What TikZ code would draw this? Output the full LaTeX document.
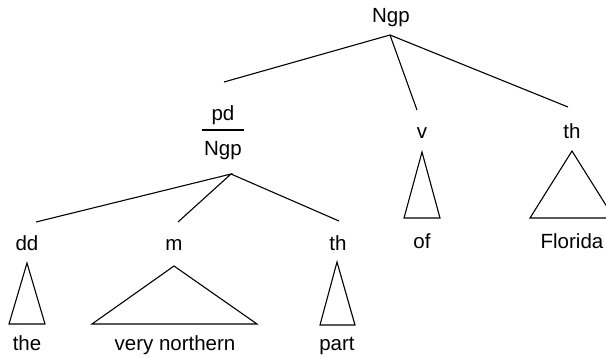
\documentclass[tikz,border=0pt]{standalone}
\usepackage{fontspec}
\setmainfont{Liberation Sans}
\begin{document}
\begin{tikzpicture}[x=1pt,y=-1pt,
  lab/.style={inner sep=0pt,anchor=base,font=\fontsize{20.5}{24}\selectfont},
  edge/.style={line width=1.1pt,line join=miter},
  tri/.style={line width=1.1pt,line join=miter}]
\useasboundingbox (0,0) rectangle (606,357);
\clip (0,0) rectangle (606,357);
% labels
\node[lab] (ngp) at (391,22) {Ngp};
\node[lab] (pd) at (223,120) {pd};
\node[lab] (ngp2) at (223,155) {Ngp};
\node[lab] (v) at (422,138) {v};
\node[lab] (th1) at (572,138) {th};
\node[lab] (dd) at (27,250) {dd};
\node[lab] (m) at (174,250) {m};
\node[lab] (th2) at (338,250) {th};
\node[lab] (of) at (422,248) {of};
\node[lab] (florida) at (572,248) {Florida};
\node[lab] (the) at (27,350) {the};
\node[lab] (vn) at (175,350) {very northern};
\node[lab] (part) at (337,350) {part};
% connection points
\coordinate (A) at (390,35);
\coordinate (Apd) at (224,82);
\coordinate (Av) at (417,110);
\coordinate (Ath) at (568,107);
\coordinate (B) at (231,174);
\coordinate (Bdd) at (36,222);
\coordinate (Bm) at (178,222);
\coordinate (Bth) at (339,221);
\coordinate (barL) at (202,130);
\coordinate (barR) at (244,130);
% edges
\draw[edge] (Apd) -- (A) -- (Av);
\draw[edge] (A) -- (Ath);
\draw[edge] (Bdd) -- (B) -- (Bm);
\draw[edge] (B) -- (Bth);
\draw[edge] (barL) -- (barR);
% triangles
\draw[tri] (27,263) -- (9,324) -- (45,324) -- cycle;
\draw[tri] (174,266) -- (92,324) -- (257,324) -- cycle;
\draw[tri] (337,262) -- (320,325) -- (355,325) -- cycle;
\draw[tri] (422,152) -- (404,218) -- (440,218) -- cycle;
\draw[tri] (572,151) -- (530,218) -- (614,218) -- cycle;
\end{tikzpicture}
\end{document}
